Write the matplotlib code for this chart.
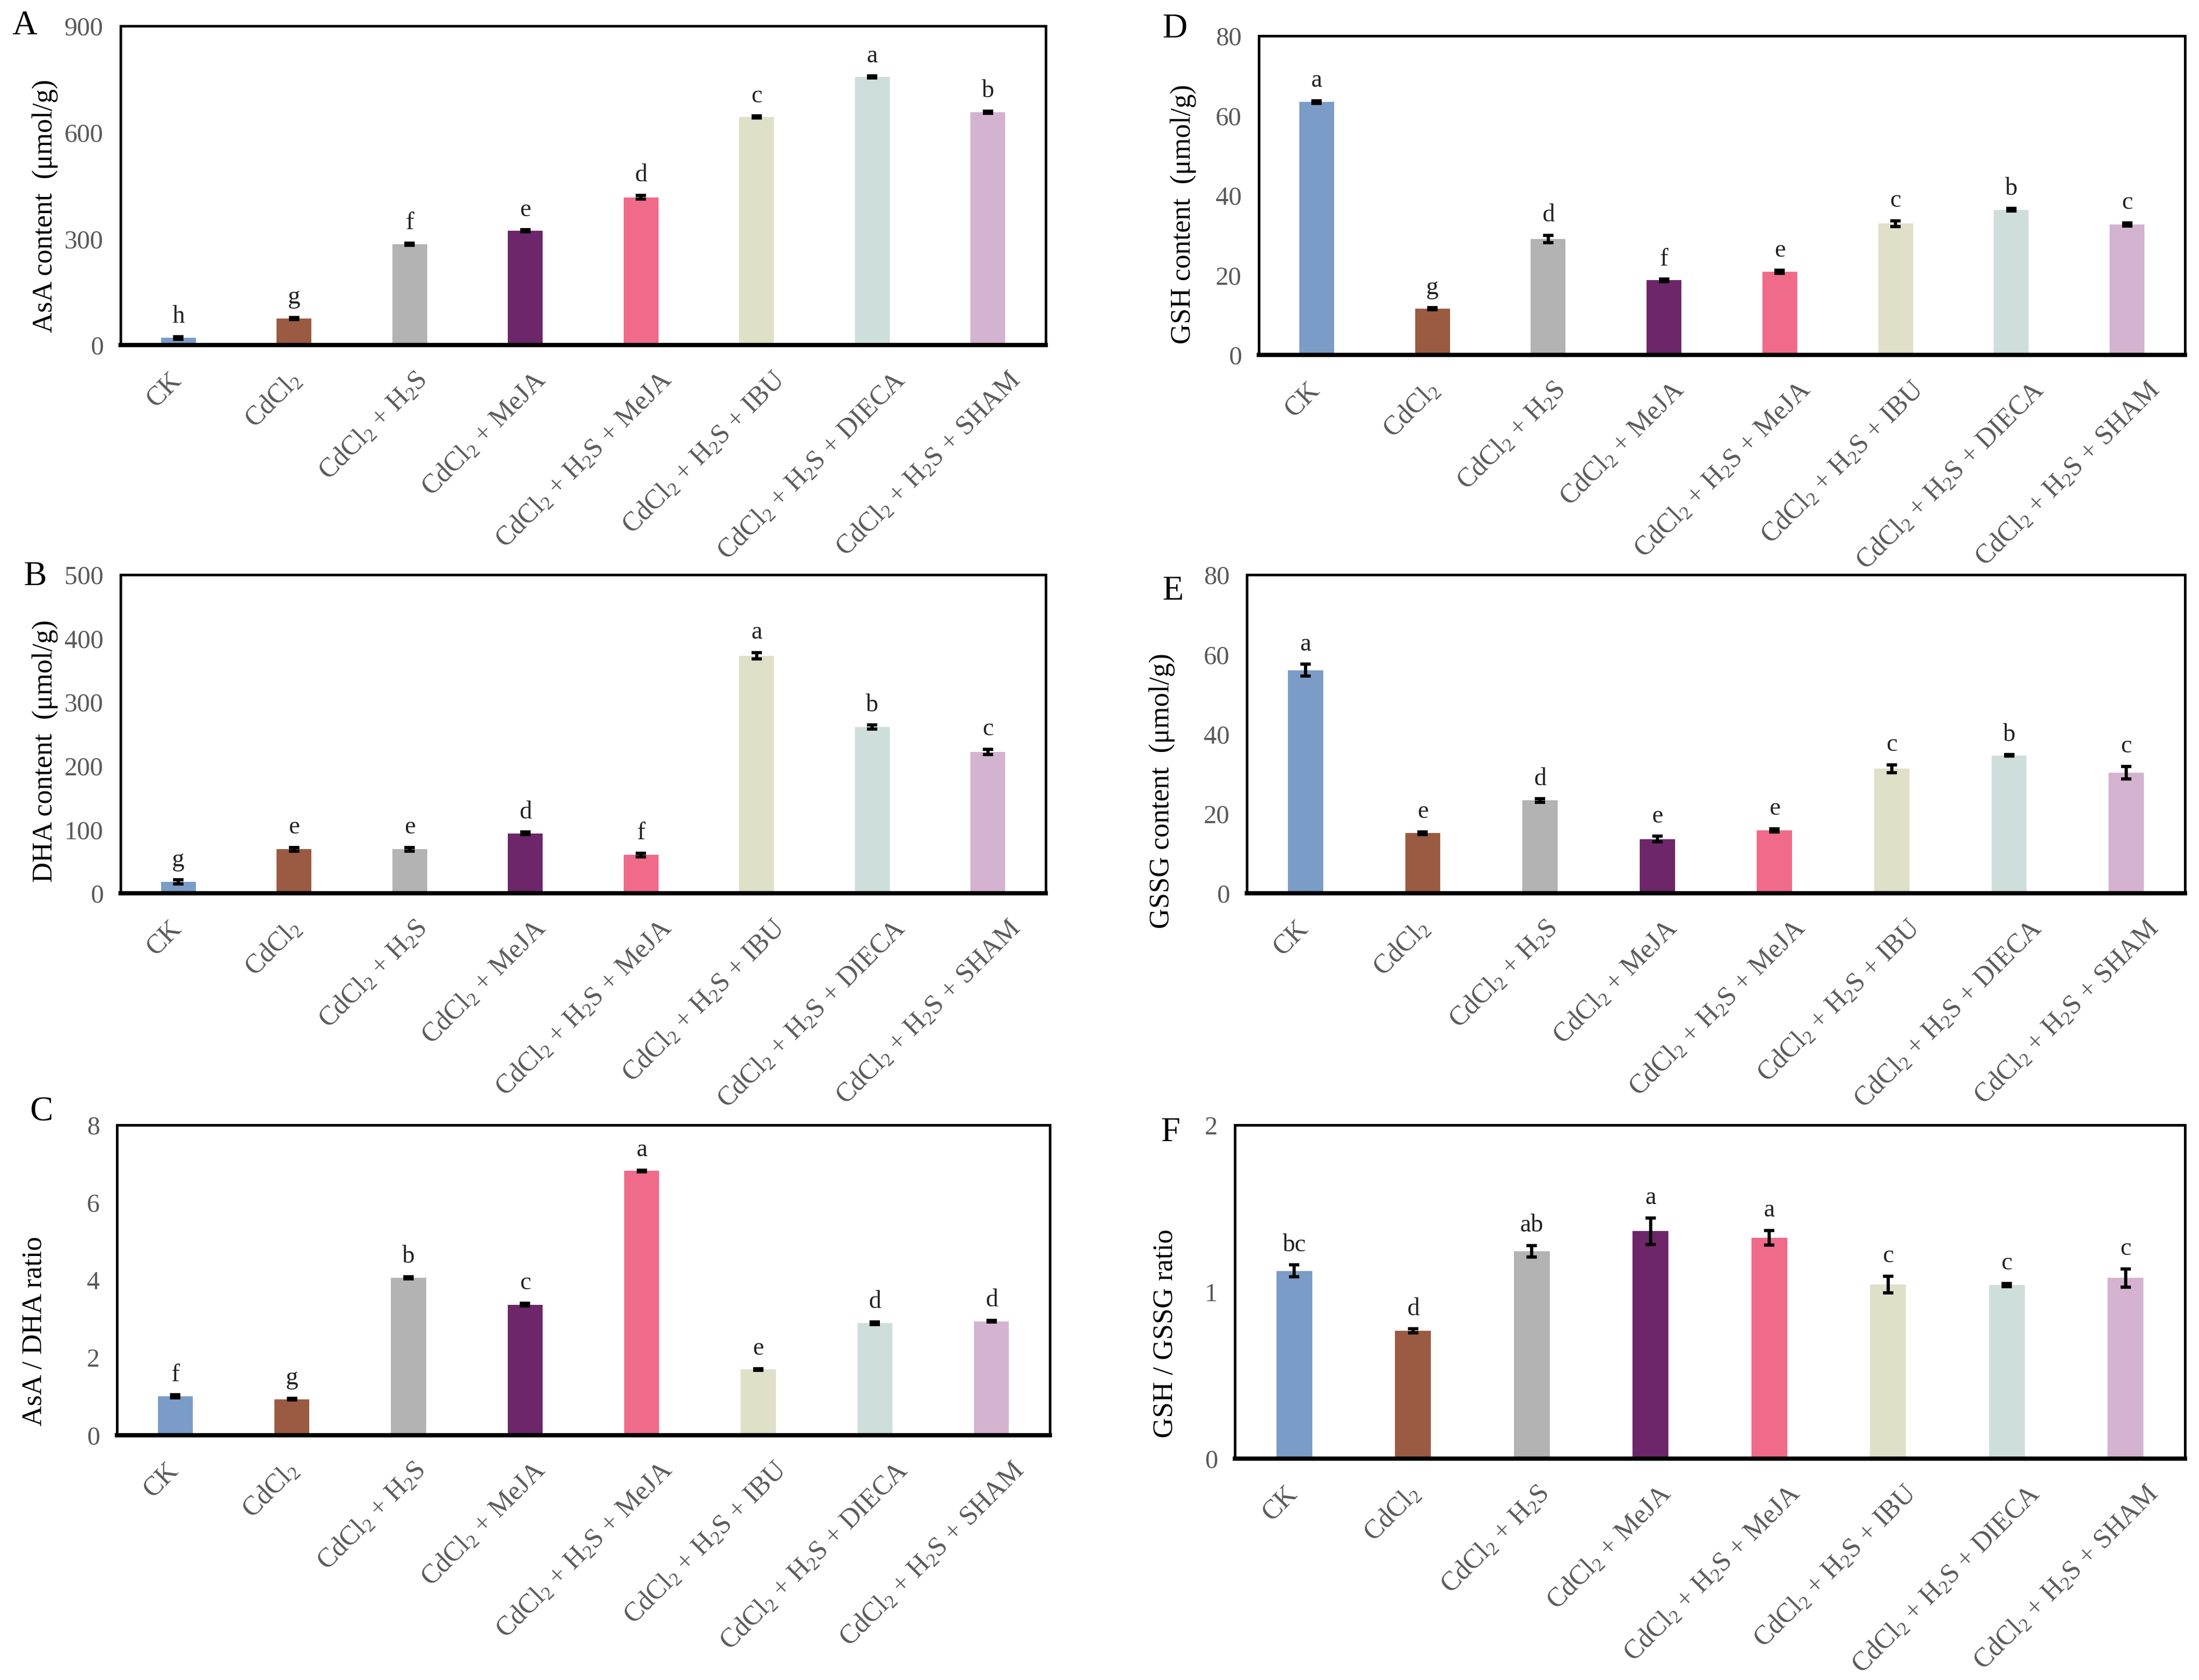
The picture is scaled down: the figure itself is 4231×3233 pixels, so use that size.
import numpy as np
import matplotlib.pyplot as plt

plt.rcParams["font.family"] = ["Liberation Serif", "DejaVu Serif"]
plt.rcParams["mathtext.default"] = "regular"

treatments = ["CK", "CdCl$_2$", "CdCl$_2$ + H$_2$S", "CdCl$_2$ + MeJA",
              "CdCl$_2$ + H$_2$S + MeJA", "CdCl$_2$ + H$_2$S + IBU",
              "CdCl$_2$ + H$_2$S + DIECA", "CdCl$_2$ + H$_2$S + SHAM"]
colors = ["#7b9cc7", "#9a5b42", "#b3b3b3", "#6d2669",
          "#f06a8a", "#dfe0c8", "#cedfdb", "#d4b3d0"]

# A - AsA content
asa = [20, 75, 285, 322, 417, 643, 756, 657]
asa_err = [4, 3, 3, 3, 5, 3, 3, 3]
asa_sig = ["h", "g", "f", "e", "d", "c", "a", "b"]

# B - DHA content
dha = [18, 69, 69, 94, 60, 373, 261, 222]
dha_err = [3, 3, 3, 2, 3, 5, 3, 4]
dha_sig = ["g", "e", "e", "d", "f", "a", "b", "c"]

# C - AsA/DHA ratio
asa_dha = [1.0, 0.93, 4.06, 3.37, 6.82, 1.70, 2.89, 2.94]
asa_dha_err = [0.04, 0.02, 0.03, 0.04, 0.02, 0.02, 0.03, 0.02]
asa_dha_sig = ["f", "g", "b", "c", "a", "e", "d", "d"]

# D - GSH content
gsh = [63.4, 11.6, 29.1, 18.7, 20.8, 32.9, 36.4, 32.7]
gsh_err = [0.3, 0.2, 0.9, 0.3, 0.4, 0.7, 0.3, 0.4]
gsh_sig = ["a", "g", "d", "f", "e", "c", "b", "c"]

# E - GSSG content
gssg = [56.0, 15.1, 23.3, 13.6, 15.8, 31.3, 34.6, 30.3]
gssg_err = [1.5, 0.3, 0.4, 0.7, 0.4, 1.0, 0.2, 1.6]
gssg_sig = ["a", "e", "d", "e", "e", "c", "b", "c"]

# F - GSH/GSSG ratio
gsh_gssg = [1.126, 0.766, 1.243, 1.363, 1.324, 1.045, 1.040, 1.083]
gsh_gssg_err = [0.035, 0.012, 0.035, 0.08, 0.045, 0.05, 0.01, 0.055]
gsh_gssg_sig = ["bc", "d", "ab", "a", "a", "c", "c", "c"]

W, H = 4231, 3233
DPI = 300
fig = plt.figure(figsize=(W / DPI, H / DPI), dpi=DPI)
renderer = fig.canvas.get_renderer()


def panel(box, vals, errs, sig, ymax, step, ylabel, label_xy, letter, letter_xy):
    l, r, t, b = box
    ax = fig.add_axes([l / W, 1 - b / H, (r - l) / W, (b - t) / H])
    x = np.arange(len(vals))
    ax.bar(x, vals, width=0.3, color=colors, edgecolor="none")
    ax.errorbar(x, vals, yerr=errs, fmt="none", ecolor="black",
                elinewidth=1.5, capsize=2.5, capthick=1.5)
    for xi, v, e, s in zip(x, vals, errs, sig):
        ax.annotate(s, (xi, v + e), xytext=(0, 4), textcoords="offset points",
                    ha="center", va="bottom", fontsize=11.5, color="#222222")
    ax.set_xlim(-0.5, len(vals) - 0.5)
    ax.set_ylim(0, ymax)
    ax.set_yticks(np.arange(0, ymax + step / 2, step))
    ax.set_xticks(x)
    ax.set_xticklabels([])

    # rotated category labels, longer ones sit a bit further right (Excel style)
    for xi, name in zip(x, treatments):
        txt = ax.annotate(name, (xi, 0), xycoords=ax.get_xaxis_transform(),
                          xytext=(0, -10.5), textcoords="offset points",
                          rotation=45, rotation_mode="anchor", ha="right",
                          va="top", fontsize=12.5, color="#595959")
        w = txt.get_window_extent(renderer).width
        dx = (0.2 * w - 36) * 72 / DPI
        txt.xyann = (dx, -10.5)

    ax.tick_params(axis="y", length=0, labelsize=12, labelcolor="#595959", pad=8)
    ax.tick_params(axis="x", length=0)
    for sp in ax.spines.values():
        sp.set_linewidth(1.2)
    ax.spines["bottom"].set_linewidth(2)
    ax.set_ylabel(ylabel, fontsize=13, va="center")
    ax.yaxis.set_label_coords((label_xy[0] - l) / (r - l),
                              (b - label_xy[1]) / (b - t))
    fig.text(letter_xy[0] / W, 1 - letter_xy[1] / H, letter, fontsize=16,
             ha="center", va="center")
    return ax


panel((232, 2012, 50, 664), asa, asa_err, asa_sig, 900, 300,
      "AsA content  (μmol/g)", (87, 396), "A", (47, 50))
panel((232, 2012, 1106, 1719), dha, dha_err, dha_sig, 500, 100,
      "DHA content  (μmol/g)", (87, 1445), "B", (67, 1110))
panel((225, 2020, 2165, 2762), asa_dha, asa_dha_err, asa_dha_sig, 8, 2,
      "AsA / DHA ratio", (67, 2562), "C", (80, 2140))
panel((2422, 4204, 69, 683), gsh, gsh_err, gsh_sig, 80, 20,
      "GSH content  (μmol/g)", (2277, 412), "D", (2260, 56))
panel((2399, 4204, 1106, 1719), gssg, gssg_err, gssg_sig, 80, 20,
      "GSSG content  (μmol/g)", (2236, 1522), "E", (2256, 1138))
panel((2376, 4204, 2165, 2807), gsh_gssg, gsh_gssg_err, gsh_gssg_sig, 2, 1,
      "GSH / GSSG ratio", (2243, 2566), "F", (2252, 2180))

fig.savefig("out.png", dpi=DPI)
